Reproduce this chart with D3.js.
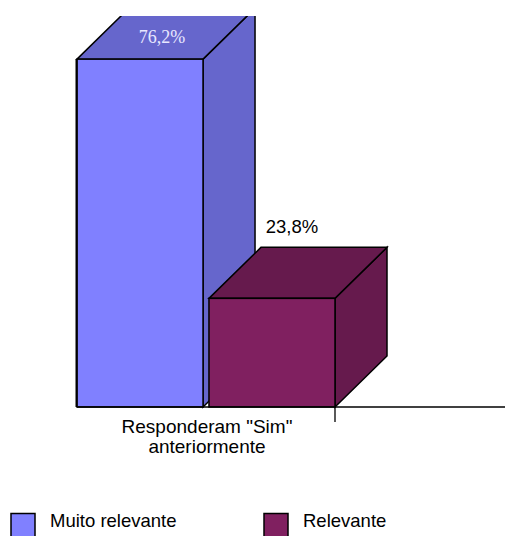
<!DOCTYPE html>
<html>
<head>
<meta charset="utf-8">
<script src="https://cdn.jsdelivr.net/npm/d3@7"></script>
<style>
html,body{margin:0;padding:0;background:#fff;}
svg{display:block;}
</style>
</head>
<body>
<script>
const categories = ['Responderam "Sim"\nanteriormente'];
const series = ["Muito relevante", "Relevante"];
const values = [76.2, 23.8];
const valueLabels = ["76,2%", "23,8%"];
const frontColors = ["#8080FF", "#802060"];
const sideColors = ["#6666CC", "#661A4D"];

const W = 505, H = 536;
const svg = d3.select("body").append("svg").attr("width", W).attr("height", H);

const baseY = 407;
const y = d3.scaleLinear().domain([0, 100]).range([baseY, baseY - 456.5]);
const xCat = d3.scaleBand().domain(categories).range([77, 335]).paddingInner(0);
const x = d3.scaleBand().domain(series).range([xCat(categories[0]), xCat(categories[0]) + xCat.bandwidth()]).paddingInner(0.045);
const dx = 52, dy = 51;

svg.append("defs").append("clipPath").attr("id", "plot")
  .append("rect").attr("x", 0).attr("y", 16).attr("width", W).attr("height", H - 16);

const plot = svg.append("g").attr("clip-path", "url(#plot)");

// baseline axis
svg.append("line").attr("x1", 77).attr("x2", W).attr("y1", baseY).attr("y2", baseY)
  .attr("stroke", "#000").attr("stroke-width", 1.3);
svg.append("line").attr("x1", xCat.range()[1]).attr("x2", xCat.range()[1]).attr("y1", baseY).attr("y2", baseY + 15)
  .attr("stroke", "#000").attr("stroke-width", 1.3);

series.forEach((s, i) => {
  const x0 = x(s), x1 = x(s) + x.bandwidth();
  const yt = y(values[i]), yb = y(0);
  const g = plot.append("g").attr("stroke", "#000").attr("stroke-width", 1.5).attr("stroke-linejoin", "miter");
  g.append("path").attr("fill", sideColors[i])
    .attr("d", `M${x1},${yb}L${x1 + dx},${yb - dy}L${x1 + dx},${yt - dy}L${x1},${yt}Z`);
  g.append("path").attr("fill", sideColors[i])
    .attr("d", `M${x0},${yt}L${x0 + dx},${yt - dy}L${x1 + dx},${yt - dy}L${x1},${yt}Z`);
  g.append("rect").attr("x", x0).attr("y", yt).attr("width", x1 - x0).attr("height", yb - yt)
    .attr("fill", frontColors[i]);
});

svg.append("line").attr("x1", 76.5).attr("x2", 76.5).attr("y1", y(values[0])).attr("y2", baseY)
  .attr("stroke", "#000").attr("stroke-width", 2);

svg.append("text").attr("x", 162).attr("y", 43).attr("text-anchor", "middle")
  .attr("font-family", "'Liberation Serif', 'Times New Roman', serif").attr("font-size", 18)
  .attr("fill", "#E8E8FF").text(valueLabels[0]);
svg.append("text").attr("x", 292).attr("y", 233).attr("text-anchor", "middle")
  .attr("font-family", "'Liberation Sans', Arial, sans-serif").attr("font-size", 18.5)
  .attr("fill", "#000").text(valueLabels[1]);

const lines = categories[0].split("\n");
const ct = svg.append("text").attr("text-anchor", "middle")
  .attr("font-family", "'Liberation Sans', Arial, sans-serif").attr("font-size", 19).attr("fill", "#000");
lines.forEach((l, k) => {
  ct.append("tspan").attr("x", xCat(categories[0]) + xCat.bandwidth() / 2 + 1).attr("y", 433 + k * 20).text(l);
});

const legX = [11, 264];
series.forEach((s, i) => {
  svg.append("rect").attr("x", legX[i]).attr("y", 513.5).attr("width", 24).attr("height", 24)
    .attr("fill", frontColors[i]).attr("stroke", "#000").attr("stroke-width", 1.5);
  svg.append("text").attr("x", legX[i] + 39).attr("y", 527)
    .attr("font-family", "'Liberation Sans', Arial, sans-serif").attr("font-size", 18.5)
    .attr("fill", "#000").text(s);
});
</script>
</body>
</html>
